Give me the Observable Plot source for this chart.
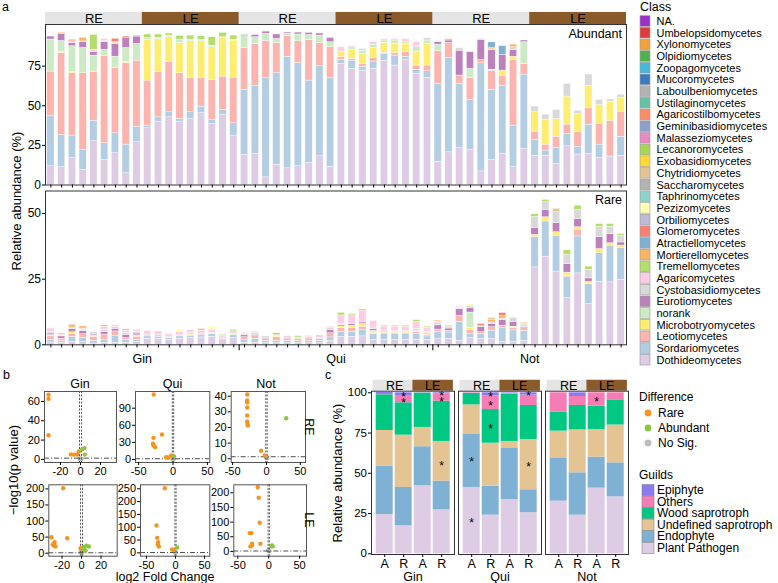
<!DOCTYPE html>
<html><head><meta charset="utf-8">
<script src="https://cdn.jsdelivr.net/npm/d3@7"></script>
<script src="https://cdn.jsdelivr.net/npm/@observablehq/plot@0.6"></script>
<style>
body{margin:0;background:#fff;}
#fig{position:relative;width:778px;height:583px;overflow:hidden;background:#fff;}
#fig > svg{position:absolute;left:0;top:0;}
</style></head><body><div id="fig"></div>
<script>
// ---------------- DATA ----------------
const sites = ["Gin", "Qui", "Not"];
const stripLabels = ["RE", "LE", "RE", "LE", "RE", "LE"];
const samplesPerStrip = 9;

const classNames = ["NA.","Umbelopsidomycetes","Xylonomycetes","Olpidiomycetes","Zoopagomycetes","Mucoromycetes","Laboulbeniomycetes","Ustilaginomycetes","Agaricostilbomycetes","Geminibasidiomycetes","Malasseziomycetes","Lecanoromycetes","Exobasidiomycetes","Chytridiomycetes","Saccharomycetes","Taphrinomycetes","Pezizomycetes","Orbiliomycetes","Glomeromycetes","Atractiellomycetes","Mortierellomycetes","Tremellomycetes","Agaricomycetes","Cystobasidiomycetes","Eurotiomycetes","norank","Microbotryomycetes","Leotiomycetes","Sordariomycetes","Dothideomycetes"];
const classColors = ["#9A32C8","#E03A3C","#F2A03A","#50B04E","#46B8DC","#3B7CC0","#B3B3B3","#66C2A5","#FC8D62","#8DA0CB","#E78AC3","#A6D854","#FFD92F","#E5C494","#B3B3B3","#8DD3C7","#FFFFB3","#BEBADA","#FB8072","#80B1D3","#FDB462","#B3DE69","#FCCDE5","#D9D9D9","#BC80BD","#CCEBC5","#FFED6F","#FBB4AE","#B3CDE3","#DECBE4"];

// Abundant (54 samples: Gin RE, Gin LE, Qui RE, Qui LE, Not RE, Not LE; 9 each)
const abDoth = [11.8,11.2,17,9.5,27.6,15.8,20,7.4,27, 35.8,40,42.7,40,41.5,45.3,38.5,44.2,31.2, 19,19.6,4.8,12.8,10.5,11.8,13.9,18.1,11.6, 76.4,73.3,72.2,73.3,78.5,75.4,78.9,70.1,67.6, 14.7,20.6,23.2,22.1,8.6,15.8,19.6,11.2,22.7, 18.5,18.5,13.3,24.4,19.2,19.6,17,17.5,18.5];
const abSord = [31.6,20.4,14.2,12.8,13,10.5,12.6,18.1,9.8, 1.7,2.7,3.2,1.7,4.4,4.2,2.5,3.2,7.7, 41,43.1,62.6,57.7,70.5,65.2,52,56.8,55.8, 2.5,5.2,2.5,4.6,4.2,6.3,2.1,2.5,4.2, 49.1,59.6,40.6,31.6,68.2,44.2,43.1,26.3,47, 9.9,3.2,9.9,7.8,5,18.5,8.5,0.5,12];
const abLeot = [28.2,51.8,39.3,48.2,30.6,55,41.1,51.5,41.7, 28.4,28.5,31.6,28.8,21.7,18.1,25.3,21,28.7, 26.5,26.3,23.6,19,12.9,13.7,25.7,14.6,19.5, 1.7,1.1,1.7,2.3,0.8,1.5,2.8,2.8,3.6, 20.6,9.5,5.3,13.9,2.1,11.8,6.3,41.4,6.7, 5.3,3.8,7.3,5.9,9.1,10.5,13,22.5,15.8];
const abMicro = [0,0.8,0.8,0,0,0,0,0.5,0, 25.7,21,15.8,19,23.1,23.1,20.6,24.2,23.6, 0,0,0,0,0,0,0,0,0, 3.6,5.9,6.3,6.3,6.2,5.8,5.2,8.8,13.6, 0,0,0,0,0,0,3.2,2.1,0, 12.2,15.5,11.2,17.7,11.5,14.1,12,12,8.6];
const abNorank = [20.2,6.7,16.3,16,10.5,4,7.3,9,10.5, 1.2,0.6,1,2.3,1.1,0.9,1.1,0.7,0.6, 7.4,4.3,4.4,2.7,1.5,4.3,3.1,4.8,3.2, 0,1.4,2.1,2.1,1.5,2.2,1.1,2.7,2.2, 4.2,0,0,5.7,0,1,0,0,13.7, 0,0,0,0,0,0,0,0,0];
const abEuro = [1.9,4.6,2.1,3.6,2.1,4.8,8,6.1,4.7, 0,0,0,0,0,0,0,0,0, 0.5,1.4,1.4,2.8,0.8,1.2,1.3,1.3,2.7, 0,0,0,0,0,0,0,0,0, 1.5,1.5,15.7,10.5,12.7,12.2,10,4.3,1.1, 0,0,0,0,0,0,0,0,0];
const abCysto = [0,0,0,0.5,0,1,0.6,0,0.8, 0,0,0,0,0,0,0,0,0, 0.8,0,0,0,0,0,0,0,0, 0,0,1.1,0,0,0,0,1.1,1.4, 0.6,0,1.5,0.4,0.6,0.6,0,1.7,0, 3.6,3.4,5.7,8,2.1,7,3.2,1.5,2.1];
const abAgar = [0,0,1,0,1.5,1,0,0,0, 0,0,0,0,0,0,0,0,0, 0,0,0,0,0,0,0,0,0, 2.7,0.9,0,1.5,0.8,1,2.1,2.1,0, 0,0,0,0,0,0,0,0,0, 0,0,0,0,0,0,0,0,0];
const abTrem = [0,0,0,0,9.4,0,0,0,0, 2.2,2.2,1.3,2.3,2.5,2.3,5.3,2.7,2.5, 0,0,0,0,0,0,0,0,0, 0,0,0,0,0,0,0,0,0, 0,0,0,0,0,0,0,0,0, 0,0,0,0,0,0,0,0,0];
const abMort = [0,0.6,0,2.3,0,0,0.6,0,0, 0,0,0,0,0,0,0,0,0, 0,0,0,0,0,0,0,0,0, 0,0,0,0,0,0,0,0,0, 0,0.8,0,0,0,0.8,0,1.6,0, 0,0,0,0,0,0,0,0,0];
const abAtra = [0,0,0,0,0,0,0,0,0, 0,0,0,0,0,0,0,0,0, 0,0,0,0,0,0,0,0,0, 0,0,0,0,0,0,0,0,0, 0,0,0,0,0,3.6,5.5,0,0, 0,0,0,0,0,0,0,0,0];
const abGlom = [0,0,0.9,0,0,0,2.1,1.1,0, 0,0,0,0,0,0,0,0,0, 0,0,0,0,0,0,0,0,0, 0,0,0,0,0,0,0,0,0, 0,0,0,0,0,0,0,0,0, 0,0,0,0,0,0,0,0,0];

// Rare
const rDoth = [0.9,0.8,1,1,0.5,0.7,0.8,0.8,1, 2.3,2.3,2,2.3,2.5,2.8,3,1.7,2.5, 0.8,0.8,0.6,0.6,0.6,0.6,0.6,0.6,1.5, 3,3,3.2,1.9,1.9,1.9,1.9,1.9,1.9, 2.2,2.3,1.5,2.5,2.2,2.2,1,1,1.5, 29.5,33.6,27.9,17.8,27.2,15.5,24,23.8,24.7];
const rSord = [0.9,0.6,2,1.7,1,1.3,2.6,1,0.9, 0.9,0.8,0.6,0.9,1,0.8,1,0.6,1.1, 1,1.5,0.8,0.8,0.9,0.8,0.8,0.9,1.3, 2,2,2.4,2.2,2.1,2.1,2.1,2.3,1.3, 2.7,2.4,7.3,1.6,1.9,3.2,5.3,4.5,3.8, 11.5,13.4,13.7,7.9,14.1,7.7,10.9,14,12.1];
const rLeot = [1.4,0.9,1.2,1.3,1.6,1.9,1.7,0.8,1.2, 0,0,0,0,0,0,0,0,0, 1.1,1,0.8,1.5,0.8,0.9,1,0.6,1.6, 1.4,1.4,1.3,0.5,0.4,0.5,0.4,0.6,0.6, 0.9,0.6,2.2,1.5,0.7,1.3,1,1,1, 0,0,0,0.5,2.6,0,0,0,0];
const rMicro = [0.5,0,0.6,0,0.5,0,0,0,0.5, 0,0,0,0.4,0.4,0,0.5,0,0, 0,0,0,0.4,0,0,0,0,0, 0.6,0.9,1,0.7,0.3,0.3,0.5,0.4,0.6, 0,0,0,0.9,0,0,0,0.4,0, 0.9,1.6,1.3,1.3,0.9,0.8,1.6,0.9,1];
const rNorank = [0,0,0,0,0,0,0,0,0, 0,0,0,0,0,0,0,0,0.5, 0,0,0,0.5,0,0,0,0,0, 0,0,0,0,0,0,0,0,0, 0,0,0,5.8,0,0,0,0,0, 0,0,0,0,0,0,0,0,0];
const rEuro = [0.6,0.9,1.2,1.3,0.6,1,1,1.2,0.7, 0,0,0,0,0,0,0,0,0, 0.7,0.5,0.5,0.5,0.4,0,0,0,1.3, 0.5,0.6,0.6,0.6,0,0,0,0,0, 1.6,0.9,2.6,1.7,1.9,1.3,2.2,1.9,0.5, 2.7,2.8,3.5,3.2,3.2,1.3,4.5,3.5,1.2];
const rCysto = [0.6,0.3,0.6,0.4,0.6,0.8,0.7,0.6,0.6, 0.7,0.6,0.5,0,0.5,0.7,0,0.5,0, 0.5,0.6,0.5,0,0,0,0.5,0.5,0.6, 0.5,0,0,0.7,0.5,0.4,0.3,0.9,0.6, 0.8,0.6,0.5,0.9,0.4,0.5,0.5,1.4,0.8, 4.1,2.9,4.1,3.5,3.4,3.2,3.8,2.8,2.6];
const rAgar = [1.3,0.4,0,0.5,0,1.2,0.7,1,0.8, 1.4,1.4,1,1.2,1.2,1.1,1.3,0.6,1, 0.5,0.6,0,0,0.6,0.5,0.5,1,0.6, 3.2,3.3,4.5,2.5,1.7,1.7,1.7,2.6,1.5, 0.5,0,0.4,0,0,0,0,0,0, 0,0,0,0,0,0,0,0,0];
const rTrem = [0,0,0,0,0,0,0,0,0, 0,0,0,0,0,0,0,0.4,0.6, 0,0,0,0,0,0.5,0,0,0, 1,0.5,0.5,0,0,0,0.4,0.7,0.4, 0,0,0,0,0,0,0,0,0.4, 1,0.9,0,1.8,1.6,1.3,1.2,1,0.6];
const rMort = [0,0.4,1,0.8,0,0.5,0,0,0, 0,0,0,0,0,0,0,0,0, 0,0,0,0,0,0,0,0,0, 0,0,0,0,0,0,0,0,0, 0.5,0,0,0,0,1.1,1,0,0.4, 0,0,0,0,0,0,0,0,0];
const rGlom = [0,0,0,0,0,0,0,0,0, 0,0,0,0,0,0,0,0,0, 0,0,0,0,0,0,0,0,0, 0,0,0,0,0,0,0,0,0, 0,0,0,0,0.8,0,1.1,0,0, 0,0,0,0,0,0,0,0,0];
const rPez = [0,0,0,0,0,0,0,0,0, 0,0,0,0.9,0,0,1.1,0,0, 0,0,0,0.5,0,0,0,0,0, 0,0,0.3,0,0,0,0,0,0, 0,0,0,0.6,0,0,0,0,0, 0,0,0,0,0,0,0,0,0];
const rChyt = [0,0,0,0,0,0,0,0.5,0, 0,0,0,0,0,0.7,0,0,0, 0,0,0,0,0,0,0,0,0, 0,0,0,0,0.4,0.4,0,0,0, 0,0.5,0,0,0,0.6,0,0,0, 0,0,1.3,0,0,0,0,0,0];

// Volcano points: [log2 fold change, -log10 p, difference]
const diffNames = ["Rare", "Abundant", "No Sig."];
const diffColors = ["#F7931E", "#8CC63F", "#BDBDBD"];
const volGinRE = [[0,0.4,"No Sig."],[-1,0.8,"No Sig."],[0.8,0.2,"No Sig."],[-0.4,1,"No Sig."],[1.2,0.6,"No Sig."],
  [-32,67,"Rare"],[-32,62.7,"Rare"],[-32,25,"Rare"],[-9.5,5.2,"Rare"],[-6.5,5,"Rare"],[-3.5,5,"Rare"],[-1.7,8.3,"Rare"],
  [1.7,10.5,"Abundant"],[4,11.7,"Abundant"],[4.3,5,"Abundant"]];
const volQuiRE = [[0,0.5,"No Sig."],[-1,1,"No Sig."],[1,0.3,"No Sig."],
  [-28,114,"Rare"],[-28.4,38,"Rare"],[-29,27.5,"Rare"],[-28.4,25,"Rare"],[-26,21.6,"Rare"],[-16,43.8,"Rare"],[-10,4,"Rare"],[-7,3.5,"Rare"],[-2.7,7,"Rare"],
  [1.5,5.5,"Abundant"]];
const volNotRE = [[0,0.3,"No Sig."],[-0.8,0.8,"No Sig."],[1,0.5,"No Sig."],
  [-28.5,41.1,"Rare"],[-28.5,37.3,"Rare"],[-28.5,36,"Rare"],[-28.5,32.8,"Rare"],[-28.5,27.7,"Rare"],[-28.5,23.8,"Rare"],[-28,22.2,"Rare"],[-27.5,21.3,"Rare"],[-7.9,5.1,"Rare"],[-2.5,2.1,"Rare"],
  [29.1,25.9,"Abundant"]];
const volGinLE = [[0,1,"No Sig."],[-1,3,"No Sig."],[1,2,"No Sig."],[-0.5,6,"No Sig."],
  [-18.8,202,"Rare"],[-30.8,49.7,"Rare"],[-27.7,34.2,"Rare"],[-28.4,23.9,"Rare"],[-26.7,20.8,"Rare"],[-29.5,27,"Rare"],[-14.7,46.6,"Rare"],[-1,15.5,"Rare"],
  [2.4,18.6,"Abundant"],[5.1,23.6,"Abundant"],[7.5,21,"Abundant"],[4.1,8.4,"Abundant"],[2,13,"Abundant"]];
const volQuiLE = [[0,1,"No Sig."],[1,3,"No Sig."],[-1,2,"No Sig."],
  [-18.4,252,"Rare"],[-32.8,107,"Rare"],[-31.6,58.6,"Rare"],[-29.9,41.4,"Rare"],[-28.7,24.6,"Rare"],[-30.5,33,"Rare"],[-5.7,12.9,"Rare"],[-3,10,"Rare"],
  [2.9,20.7,"Abundant"]];
const volNotLE = [[0,2,"No Sig."],[-1,4,"No Sig."],[1,1,"No Sig."],
  [-17.8,219,"Rare"],[-16.2,183,"Rare"],[-14.6,97.8,"Rare"],[-30.8,62.4,"Rare"],[-28,62.4,"Rare"],[-27,26.2,"Rare"],[-27,20.4,"Rare"],[-29.7,17,"Rare"],[-13.5,26.2,"Rare"],
  [5.4,20.4,"Abundant"],[6.5,17,"Abundant"],[4.5,18.5,"Abundant"]];

// Guilds (12 bars: per site: A-RE, R-RE, A-LE, R-LE)
const guildNames = ["Epiphyte", "Others", "Wood saprotroph", "Undefined saprotroph", "Endophyte", "Plant Pathogen"];
const guildColors = ["#8C7BF0", "#F67CB5", "#00C781", "#E5C494", "#7FB1D5", "#DECBE4"];
const barKeys = ["A_RE", "R_RE", "A_LE", "R_LE"];
const gPlantPathogen = [24.4,17.4,42.2,27.3, 41.2,24,33.7,25.5, 32.7,24,40.8,35.4];
const gEndophyte     = [30.1,23.8,24.3,17.8, 33.3,18,32.1,14.3, 26.9,26.3,19.2,21.1];
const gUndefined     = [22.1,32.5,12,24.7, 18,26.7,4,31.2, 16.6,26.7,17.2,23.5];
const gWood          = [22.2,20.1,21.3,25, 7.1,20.9,29.4,21.1, 11.8,15.1,14.5,15.6];
const gOthers        = [0.2,4.1,0.1,4.6, 0.3,8.5,0.5,6.5, 12,5.6,8.3,4.4];
const gEpiphyte      = [1.2,2.1,0.1,0.6, 0.1,1.9,0.3,1.4, 0,2.3,0,0];
const stars = [["Gin","R_RE",99.4],["Gin","R_RE",95.7],["Gin","R_LE",99.8],["Gin","R_LE",96.3],["Gin","R_LE",56.3],
  ["Qui","A_RE",58.6],["Qui","A_RE",21.1],["Qui","R_RE",99.4],["Qui","R_RE",93.8],["Qui","R_RE",79.3],["Qui","R_LE",99.6],["Qui","R_LE",55.9],
  ["Not","A_LE",96.3]];

// ---------------- BUILD ----------------
const W = 778, H = 583;
const FONT = "'Liberation Sans', Arial, Helvetica, sans-serif";
const fig = document.getElementById("fig");
const add = (el) => fig.appendChild(el);
const baseStyle = {fontFamily: FONT, background: "transparent", overflow: "visible", color: "#000"};
const BROWN = "#8B5A2B", LGRAY = "#E5E5E5";

const nSamples = stripLabels.length * samplesPerStrip;
const sampleIdx = d3.range(nSamples);
const stackOrder = classNames.slice().reverse();
function stackLong(series) {
  const s = series.slice().sort((a, b) => stackOrder.indexOf(a[0]) - stackOrder.indexOf(b[0]));
  const out = [];
  for (const i of sampleIdx) {
    let acc = 0;
    for (const [cls, vals] of s) {
      const v = vals[i];
      if (v > 0) { out.push({i, cls, y1: acc, y2: acc + v}); acc += v; }
    }
  }
  return out;
}
const abLong = stackLong([["Dothideomycetes",abDoth],["Sordariomycetes",abSord],["Leotiomycetes",abLeot],["Microbotryomycetes",abMicro],["norank",abNorank],["Eurotiomycetes",abEuro],["Cystobasidiomycetes",abCysto],["Agaricomycetes",abAgar],["Tremellomycetes",abTrem],["Mortierellomycetes",abMort],["Atractiellomycetes",abAtra],["Glomeromycetes",abGlom]]);
const rLong = stackLong([["Dothideomycetes",rDoth],["Sordariomycetes",rSord],["Leotiomycetes",rLeot],["Microbotryomycetes",rMicro],["norank",rNorank],["Eurotiomycetes",rEuro],["Cystobasidiomycetes",rCysto],["Agaricomycetes",rAgar],["Tremellomycetes",rTrem],["Mortierellomycetes",rMort],["Glomeromycetes",rGlom],["Pezizomycetes",rPez],["Chytridiomycetes",rChyt]]);
const strips = stripLabels.map((lab, k) => ({lab, start: k * samplesPerStrip, end: k * samplesPerStrip + samplesPerStrip - 1}));
const perSite = nSamples / sites.length;
const siteCenters = sites.map((s, k) => k * perSite + (perSite - 1) / 2);
const siteBounds = sites.slice(1).map((s, k) => (k + 1) * perSite - 0.5);
const siteAt = new Map(siteCenters.map((c, k) => [c, sites[k]]));
const half = 0.34;
const colorA = {domain: classNames, range: classColors};

// Panel a - abundant
const abTop = 101.3;
add(Plot.plot({
  width: W, height: H, marginLeft: 45, marginRight: W - 626, marginTop: 24, marginBottom: H - 184.5,
  style: baseStyle,
  x: {type: "linear", domain: [-0.5, nSamples - 0.5], label: null},
  y: {domain: [0, abTop], label: null},
  color: colorA,
  marks: [
    Plot.rect(abLong, {x1: d => d.i - half, x2: d => d.i + half, y1: "y1", y2: "y2", fill: "cls", stroke: "white", strokeWidth: 0.4}),
    Plot.rect(strips.filter(d => d.lab === "RE"), {x1: d => d.start - 0.5, x2: d => d.end + 0.5, y1: abTop, y2: abTop + 7.6, fill: LGRAY}),
    Plot.rect(strips.filter(d => d.lab === "LE"), {x1: d => d.start - 0.5, x2: d => d.end + 0.5, y1: abTop, y2: abTop + 7.6, fill: BROWN}),
    Plot.text(strips, {x: d => (d.start + d.end) / 2, y: abTop + 3.8, text: "lab", fontSize: 13, fill: "#000"}),
    Plot.frame({stroke: "#333"}),
    Plot.axisY({ticks: [0, 25, 50, 75], tickSize: 3, tickPadding: 1.5, fontSize: 12, label: null}),
    Plot.axisX({ticks: sampleIdx, tickSize: 3, tickFormat: () => "", label: null})
  ]
}));

// Panel a - rare
add(Plot.plot({
  width: W, height: H, marginLeft: 45, marginRight: W - 626, marginTop: 190.5, marginBottom: H - 344.3,
  style: baseStyle,
  x: {type: "linear", domain: [-0.5, nSamples - 0.5], label: null},
  y: {domain: [0, 58.6], label: null},
  color: colorA,
  marks: [
    Plot.rect(rLong, {x1: d => d.i - half, x2: d => d.i + half, y1: "y1", y2: "y2", fill: "cls", stroke: "white", strokeWidth: 0.4}),
    Plot.frame({stroke: "#333"}),
    Plot.axisY({ticks: [0, 25, 50], tickSize: 3, tickPadding: 1.5, fontSize: 12, label: null}),
    Plot.axisX({ticks: sampleIdx, tickSize: 3, tickFormat: () => "", label: null}),
    Plot.axisX({ticks: siteBounds, tickSize: 6, tickFormat: () => "", label: null}),
    Plot.axisX({ticks: siteCenters, tickSize: 0, tickPadding: 9, tickFormat: d => siteAt.get(d), fontSize: 12.5, label: null})
  ]
}));

// Panel b - volcano plots
function volcano(points, box, xdom, ydom, xticks, yticks) {
  add(Plot.plot({
    width: W, height: H, marginLeft: box[0], marginRight: W - box[1], marginTop: box[2], marginBottom: H - box[3],
    style: baseStyle,
    x: {domain: xdom, label: null},
    y: {domain: ydom, label: null},
    color: {domain: diffNames, range: diffColors},
    marks: [
      Plot.dot(points.filter(d => d[2] === "No Sig."), {x: d => d[0], y: d => d[1], fill: d => d[2], r: 2.2}),
      Plot.ruleY([-Math.log10(0.05)], {stroke: "#222", strokeDasharray: "5,2,1,2", strokeWidth: 0.8}),
      Plot.ruleX([-1, 1], {stroke: "#444", strokeDasharray: "2,1.5", strokeWidth: 0.9}),
      Plot.dot(points.filter(d => d[2] !== "No Sig."), {x: d => d[0], y: d => d[1], fill: d => d[2], r: 2.2}),
      Plot.frame({stroke: "#555"}),
      Plot.axisX({ticks: xticks, tickSize: 3, tickPadding: 1.5, tickFormat: d => String(d), fontSize: 11, label: null}),
      Plot.axisY({ticks: yticks, tickSize: 3, tickPadding: 1.5, tickFormat: d => String(d), fontSize: 11, label: null})
    ]
  }));
}
volcano(volGinRE, [44, 116, 391, 462], [-36, 36], [-3.2, 70.3], [-20, 0, 20], [0, 20, 40, 60]);
volcano(volQuiRE, [135, 209.3, 391, 462], [-54.5, 53.5], [-5.3, 119.3], [-50, 0, 50], [0, 30, 60, 90]);
volcano(volNotRE, [230.7, 305, 391, 462], [-52.1, 57.6], [-2.4, 43], [-50, 0, 50], [0, 10, 20, 30, 40]);
volcano(volGinLE, [48.3, 116.7, 484.3, 555.7], [-33.6, 36.6], [-9.3, 212.7], [-20, 0, 20], [0, 50, 100, 150, 200]);
volcano(volQuiLE, [140, 209.3, 484.3, 555.7], [-60.3, 59.1], [-13, 265.6], [-50, 0, 50], [0, 50, 100, 150, 200, 250]);
volcano(volNotLE, [233.3, 306, 484.3, 555.7], [-56.6, 61.2], [-16.4, 227.3], [-50, 0, 50], [0, 50, 100, 150, 200]);

// Panel c - guild stacked bars
const guildSeries = [["Plant Pathogen", gPlantPathogen], ["Endophyte", gEndophyte], ["Undefined saprotroph", gUndefined], ["Wood saprotroph", gWood], ["Others", gOthers], ["Epiphyte", gEpiphyte]];
const cLong = [];
for (let k = 0; k < sites.length * barKeys.length; k++) {
  for (const [guild, vals] of guildSeries) cLong.push({site: sites[Math.floor(k / barKeys.length)], key: barKeys[k % barKeys.length], guild, value: vals[k]});
}
const stripC = sites.flatMap(s => barKeys.map(k => ({site: s, key: k, lab: k.slice(2)})));
const cLeft = 369.3, cRight = 629.3, fxPadIn = 0.042, xPadIn = 0.125, xPadOut = 0.16;
const fxBand = (cRight - cLeft) / (sites.length - fxPadIn) * (1 - fxPadIn);
const xStep = fxBand / (barKeys.length - xPadIn + 2 * xPadOut);
const inIn = -xStep * xPadIn / 2, inOut = -xStep * xPadOut;
const cTop = 101.0, cStripTop = 107.8;
const sOpt = {fx: "site", x: "key", y1: cTop, y2: cStripTop};
add(Plot.plot({
  width: W, height: H, marginLeft: cLeft, marginRight: W - cRight, marginTop: 390.7, marginBottom: H - 554,
  style: baseStyle,
  fx: {domain: sites, paddingInner: fxPadIn, paddingOuter: 0, label: null},
  x: {domain: barKeys, paddingInner: xPadIn, paddingOuter: xPadOut, label: null},
  y: {domain: [-0.43, cTop], label: null},
  color: {domain: guildNames, range: guildColors},
  marks: [
    Plot.barY(cLong, {fx: "site", x: "key", y: "value", fill: "guild"}),
    Plot.barY(stripC.filter(d => d.key === "A_RE"), {...sOpt, fill: LGRAY, insetLeft: inOut, insetRight: inIn}),
    Plot.barY(stripC.filter(d => d.key === "R_RE"), {...sOpt, fill: LGRAY, insetLeft: inIn, insetRight: inIn}),
    Plot.barY(stripC.filter(d => d.key === "A_LE"), {...sOpt, fill: BROWN, insetLeft: inIn, insetRight: inIn}),
    Plot.barY(stripC.filter(d => d.key === "R_LE"), {...sOpt, fill: BROWN, insetLeft: inIn, insetRight: inOut}),
    Plot.text(stripC.filter(d => d.key[0] === "A"), {fx: "site", x: "key", y: (cTop + cStripTop) / 2, text: "lab", dx: xStep / 2, fontSize: 12.5, fill: "#000"}),
    Plot.text(stars, {fx: d => d[0], x: d => d[1], y: d => d[2], text: () => "*", fontSize: 12, dy: 3, fill: "#000"}),
    Plot.frame({stroke: "#333"}),
    Plot.axisY({ticks: [0, 25, 50, 75, 100], tickSize: 3, tickPadding: 1.5, fontSize: 11.5, label: null}),
    Plot.axisX({tickSize: 3, tickPadding: 1.5, tickFormat: d => d[0], fontSize: 12.5, label: null}),
    Plot.axisFx({anchor: "bottom", tickSize: 0, tickPadding: 18, fontSize: 12.5, label: null})
  ]
}));

// ---------------- TEXT & LEGENDS ----------------
const ov = d3.create("svg").attr("width", W).attr("height", H).style("font-family", FONT).style("overflow", "visible");
function txt(x, y, s, o = {}) {
  const t = ov.append("text").attr("x", x).attr("y", y).text(s)
    .attr("font-size", o.size || 12).attr("text-anchor", o.anchor || "start")
    .attr("dominant-baseline", "central").attr("fill", "#000");
  if (o.rot != null) t.attr("transform", `rotate(${o.rot},${x},${y})`);
  return t;
}
txt(2, 7, "a", {size: 12.5});
txt(3, 375, "b", {size: 12.5});
txt(325, 375, "c", {size: 12.5});
txt(622, 34, "Abundant", {anchor: "end", size: 12.5});
txt(622, 199.5, "Rare", {anchor: "end", size: 12.5});
txt(16, 201, "Relative abundance (%)", {anchor: "middle", size: 13, rot: -90});
// panel b texts
txt(80, 384, "Gin", {anchor: "middle", size: 12.5});
txt(172.5, 384, "Qui", {anchor: "middle", size: 12.5});
txt(266, 384, "Not", {anchor: "middle", size: 12.5});
txt(309, 427, "RE", {anchor: "middle", size: 12.5, rot: 90});
txt(309, 520, "LE", {anchor: "middle", size: 12.5, rot: 90});
txt(13, 470, "\u2212log10(p value)", {anchor: "middle", size: 13, rot: -90});
txt(165, 577, "log2 Fold Change", {anchor: "middle", size: 12.5});
// panel c
txt(337, 473, "Relative abundance (%)", {anchor: "middle", size: 13, rot: -90});
// Class legend
txt(640, 7, "Class", {size: 12.5});
classNames.forEach((c, i) => {
  const y = 21 + i * 11.68;
  ov.append("rect").attr("x", 640).attr("y", y - 5.3).attr("width", 10).attr("height", 10.6).attr("fill", classColors[i]).attr("stroke", "#9a9a9a").attr("stroke-width", 0.6);
  txt(656.5, y, c, {size: 11});
});
// Difference legend
txt(639, 397, "Difference", {size: 12});
diffNames.forEach((d, i) => {
  const y = 413 + i * 15;
  ov.append("circle").attr("cx", 648).attr("cy", y).attr("r", 3.4).attr("fill", diffColors[i]);
  txt(658, y, d, {size: 12});
});
// Guild legend
txt(639, 475, "Guilds", {size: 12});
guildNames.forEach((g, i) => {
  const y = 490 + i * 11.6;
  ov.append("rect").attr("x", 642).attr("y", y - 5.6).attr("width", 12).attr("height", 11.2).attr("fill", guildColors[i]).attr("stroke", "#888").attr("stroke-width", 0.6);
  txt(657, y, g, {size: 12});
});
add(ov.node());
</script></body></html>
